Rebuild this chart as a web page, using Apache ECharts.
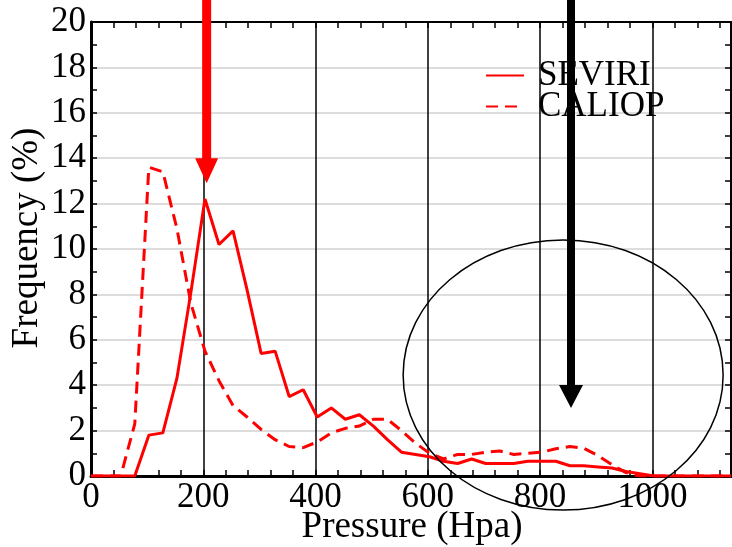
<!DOCTYPE html>
<html><head><meta charset="utf-8">
<script src="https://cdn.jsdelivr.net/npm/echarts@6/dist/echarts.min.js"></script>
<style>html,body{margin:0;padding:0;background:#fff}#c{width:732px;height:547px}</style>
</head><body><div id="c"></div>
<script>
// Pressure bins (hPa)
const pressure = [0, 28, 53, 78, 103, 128, 153, 178, 203, 228, 253, 278, 303, 328, 353, 378, 403, 428, 453, 478,
  503, 528, 553, 578, 603, 628, 653, 678, 703, 728, 753, 778, 803, 828, 853, 878, 903, 928, 953, 978,
  1003, 1028, 1053, 1078, 1103, 1128, 1140];
// Frequency (%)
const seviri = [0, 0, 0, 0, 1.8, 1.9, 4.3, 8.1, 12.2, 10.2, 10.8, 8.2, 5.4, 5.5, 3.5, 3.8, 2.6, 3.0, 2.5, 2.7,
  2.2, 1.6, 1.05, 0.95, 0.85, 0.65, 0.55, 0.75, 0.55, 0.55, 0.55, 0.65, 0.65, 0.65, 0.45, 0.45, 0.4, 0.35, 0.2, 0.1,
  0, 0, 0, 0, 0, 0, 0];
const caliop = [0, 0, 0, 2.3, 13.6, 13.4, 10.9, 7.6, 5.5, 4.2, 3.1, 2.6, 2.05, 1.6, 1.3, 1.25, 1.5, 1.9, 2.1, 2.2,
  2.5, 2.5, 2.0, 1.45, 1.0, 0.75, 0.95, 0.95, 1.05, 1.1, 0.95, 1.0, 1.05, 1.2, 1.3, 1.22, 0.9, 0.5, 0.15, 0,
  0, 0, 0, 0, 0, 0, 0];
const seriesNames = ['SEVIRI', 'CALIOP'];
const xLabelStep = 200;   // labelled pressure ticks
const yLabelStep = 2;     // labelled frequency ticks
const xTitle = 'Pressure (Hpa)';
const yTitle = 'Frequency (%)';
// Annotations (data coordinates)
const redArrow = {x: 206, tip: 12.9};
const blackArrow = {x: 855, tip: 3.0};
const ellipseNote = {cx: 841, cy: 4.45, rx: 285, ry: 5.95};

const FONT = 'Liberation Serif';
const chart = echarts.init(document.getElementById('c'), null, {renderer: 'canvas'});

const xBase = {type: 'value', min: 0, max: 1140, interval: 40};
const yBase = {type: 'value', min: 0, max: 20, interval: 1};

chart.setOption({
  animation: false,
  backgroundColor: '#fff',
  grid: {left: 91, right: 1, top: 22, bottom: 71, containLabel: false, outerBoundsMode: 'none'},
  xAxis: [
    Object.assign({}, xBase, {
      position: 'bottom', z: 3,
      axisLine: {show: true, onZero: false, lineStyle: {color: '#000', width: 3}},
      axisTick: {show: true, inside: true, length: 6, lineStyle: {color: '#000', width: 1.5}},
      axisLabel: {formatter: v => (v % xLabelStep === 0 ? String(v) : ''), fontFamily: FONT, fontSize: 35, color: '#000', margin: 4},
      splitLine: {show: false}
    }),
    Object.assign({}, xBase, {
      position: 'top', z: 3,
      axisLine: {show: true, onZero: false, lineStyle: {color: '#000', width: 2}},
      axisTick: {show: true, inside: true, length: 6, lineStyle: {color: '#000', width: 1.5}},
      axisLabel: {show: false}, splitLine: {show: false}
    }),
    Object.assign({}, xBase, {
      interval: xLabelStep, position: 'bottom', z: 1,
      axisLine: {show: false}, axisTick: {show: false}, axisLabel: {show: false},
      splitLine: {show: true, lineStyle: {color: '#000', width: 1.5}}
    })
  ],
  yAxis: [
    Object.assign({}, yBase, {
      position: 'left', z: 3,
      axisLine: {show: true, onZero: false, lineStyle: {color: '#000', width: 3}},
      axisTick: {show: true, inside: true, length: 6, lineStyle: {color: '#000', width: 1.5}},
      axisLabel: {formatter: v => (v % yLabelStep === 0 ? String(v) : ''), fontFamily: FONT, fontSize: 35, color: '#000', margin: 5},
      splitLine: {show: false}
    }),
    Object.assign({}, yBase, {
      position: 'right', z: 3,
      axisLine: {show: true, onZero: false, lineStyle: {color: '#000', width: 2}},
      axisTick: {show: true, inside: true, length: 6, lineStyle: {color: '#000', width: 1.5}},
      axisLabel: {show: false}, splitLine: {show: false}
    }),
    Object.assign({}, yBase, {
      interval: yLabelStep, position: 'left', z: 0,
      axisLine: {show: false}, axisTick: {show: false}, axisLabel: {show: false},
      splitLine: {show: true, lineStyle: {color: '#dddddd', width: 2}}
    })
  ],
  legend: {
    data: seriesNames, orient: 'vertical', left: 485, top: 58, padding: 0,
    itemWidth: 38, itemHeight: 20, itemGap: -4,
    itemStyle: {opacity: 0},
    textStyle: {fontFamily: FONT, fontSize: 35, color: '#000', lineHeight: 30, padding: [0, 0, 0, 9]}
  },
  series: [
    {name: seriesNames[0], type: 'line', xAxisIndex: 0, yAxisIndex: 0, symbol: 'none', z: 4,
     data: pressure.map((p, i) => [p, seviri[i]]),
     lineStyle: {color: '#ff0000', width: 3}, itemStyle: {color: '#ff0000'}},
    {name: seriesNames[1], type: 'line', xAxisIndex: 0, yAxisIndex: 0, symbol: 'none', z: 4,
     data: pressure.map((p, i) => [p, caliop[i]]),
     lineStyle: {color: '#ff0000', width: 3, type: [12, 7]}, itemStyle: {color: '#ff0000'}}
  ]
});

function px(x, y) { return chart.convertToPixel({xAxisIndex: 0, yAxisIndex: 0}, [x, y]); }
function arrow(a, color, shaftW, headW, headH) {
  const tip = px(a.x, a.tip);
  const cx = tip[0], ty = tip[1], hy = ty - headH;
  return {type: 'polygon', z: 100,
    shape: {points: [[cx - shaftW / 2, 0], [cx - shaftW / 2, hy], [cx - headW / 2, hy], [cx, ty],
                     [cx + headW / 2, hy], [cx + shaftW / 2, hy], [cx + shaftW / 2, 0]]},
    style: {fill: color}};
}
const ec = px(ellipseNote.cx, ellipseNote.cy);
const ex = px(ellipseNote.cx + ellipseNote.rx, ellipseNote.cy);
const ey = px(ellipseNote.cx, ellipseNote.cy + ellipseNote.ry);
chart.setOption({
  graphic: [
    {type: 'ellipse', z: 90, shape: {cx: ec[0], cy: ec[1], rx: ex[0] - ec[0], ry: ec[1] - ey[1]},
     style: {fill: 'none', stroke: '#000', lineWidth: 1.5}},
    arrow(redArrow, '#ff0000', 9, 23, 25),
    arrow(blackArrow, '#000000', 8, 24, 23),
    {type: 'text', z: 100, x: 27, y: 238, rotation: Math.PI / 2,
     style: {text: yTitle, font: '37px "Liberation Serif"', fill: '#000', textAlign: 'center', textVerticalAlign: 'middle'}},
    {type: 'text', z: 100, x: 412, y: 527,
     style: {text: xTitle, font: '37px "Liberation Serif"', fill: '#000', textAlign: 'center', textVerticalAlign: 'middle'}}
  ]
});
</script></body></html>
